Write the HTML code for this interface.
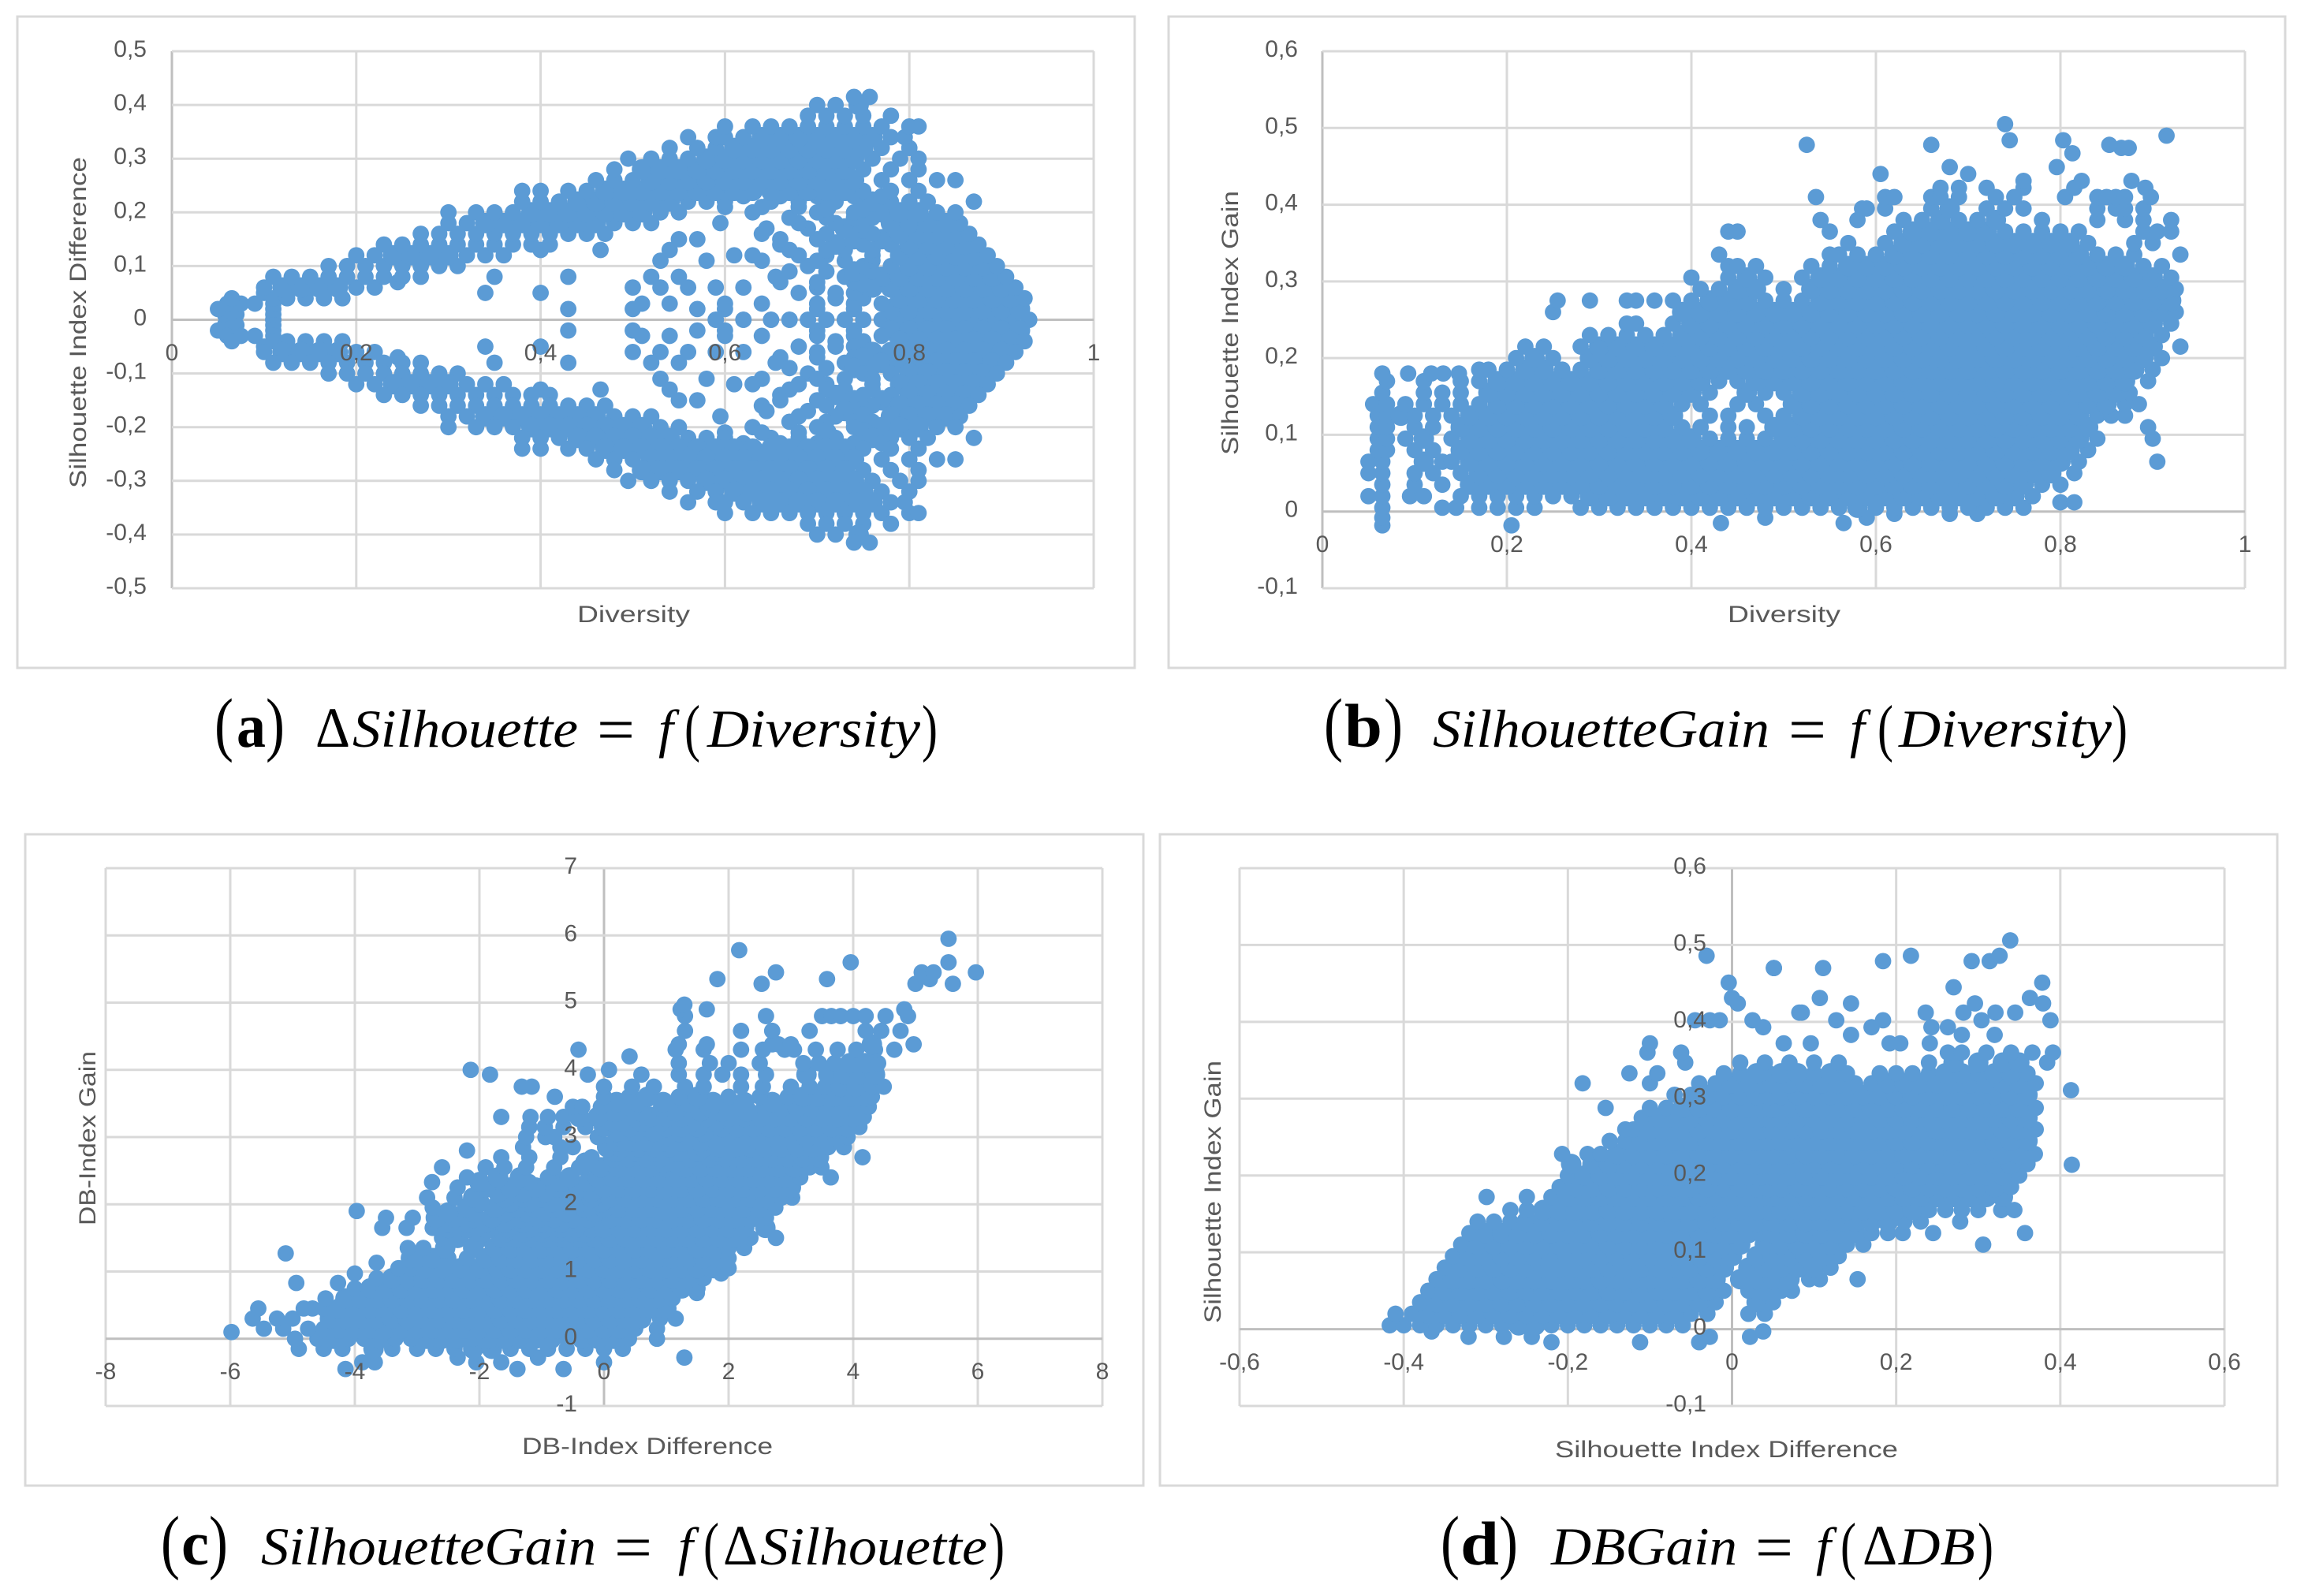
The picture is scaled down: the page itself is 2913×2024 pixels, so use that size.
<!DOCTYPE html>
<html lang="en">
<head>
<meta charset="utf-8">
<title>Silhouette and DB index scatter plots</title>
<style>
html,body{margin:0;padding:0;background:#fff;}
svg{display:block;}
.tick{font-family:"Liberation Sans",sans-serif;font-size:30px;fill:#595959;}
.cap{font-family:"Liberation Serif",serif;fill:#000;}
.it{font-style:italic;font-size:68px;}
.pb{font-size:90px;}
.ps{font-size:80px;}
.bd{font-weight:bold;font-size:78px;}
</style>
</head>
<body>
<svg id="figure" xmlns="http://www.w3.org/2000/svg" width="2913" height="2024" viewBox="0 0 2913 2024">
<rect x="0" y="0" width="2913" height="2024" fill="#fff"/>
<g id="charts"></g>

<g>
<text class="cap pb" x="272" y="948" textLength="24" lengthAdjust="spacingAndGlyphs">(</text>
<text class="cap bd" x="300" y="947" textLength="37" lengthAdjust="spacingAndGlyphs">a</text>
<text class="cap pb" x="337" y="948" textLength="24" lengthAdjust="spacingAndGlyphs">)</text>
<text class="cap" style="font-size:72px" x="400" y="947" textLength="44" lengthAdjust="spacingAndGlyphs">Δ</text>
<text class="cap it" x="447" y="947" textLength="286" lengthAdjust="spacingAndGlyphs">Silhouette</text>
<text class="cap" style="font-size:80px" x="757" y="952" textLength="48" lengthAdjust="spacingAndGlyphs">=</text>
<text class="cap it" x="835" y="947">f</text>
<text class="cap ps" x="868" y="950" textLength="20" lengthAdjust="spacingAndGlyphs">(</text>
<text class="cap it" x="897" y="947" textLength="270" lengthAdjust="spacingAndGlyphs">Diversity</text>
<text class="cap ps" x="1169" y="950" textLength="20" lengthAdjust="spacingAndGlyphs">)</text>
</g>

<g>
<text class="cap pb" x="1679" y="948" textLength="24" lengthAdjust="spacingAndGlyphs">(</text>
<text class="cap bd" x="1705" y="947" textLength="48" lengthAdjust="spacingAndGlyphs">b</text>
<text class="cap pb" x="1755" y="948" textLength="24" lengthAdjust="spacingAndGlyphs">)</text>
<text class="cap it" x="1817" y="947" textLength="427" lengthAdjust="spacingAndGlyphs">SilhouetteGain</text>
<text class="cap" style="font-size:80px" x="2268" y="952" textLength="48" lengthAdjust="spacingAndGlyphs">=</text>
<text class="cap it" x="2346" y="947">f</text>
<text class="cap ps" x="2381" y="950" textLength="20" lengthAdjust="spacingAndGlyphs">(</text>
<text class="cap it" x="2408" y="947" textLength="270" lengthAdjust="spacingAndGlyphs">Diversity</text>
<text class="cap ps" x="2678" y="950" textLength="20" lengthAdjust="spacingAndGlyphs">)</text>
</g>

<g>
<text class="cap pb" x="204" y="1985" textLength="24" lengthAdjust="spacingAndGlyphs">(</text>
<text class="cap bd" x="230" y="1984" textLength="35" lengthAdjust="spacingAndGlyphs">c</text>
<text class="cap pb" x="265" y="1985" textLength="24" lengthAdjust="spacingAndGlyphs">)</text>
<text class="cap it" x="331" y="1984" textLength="425" lengthAdjust="spacingAndGlyphs">SilhouetteGain</text>
<text class="cap" style="font-size:80px" x="779" y="1989" textLength="48" lengthAdjust="spacingAndGlyphs">=</text>
<text class="cap it" x="860" y="1984">f</text>
<text class="cap ps" x="892" y="1987" textLength="20" lengthAdjust="spacingAndGlyphs">(</text>
<text class="cap" style="font-size:72px" x="917" y="1984" textLength="44" lengthAdjust="spacingAndGlyphs">Δ</text>
<text class="cap it" x="964" y="1984" textLength="288" lengthAdjust="spacingAndGlyphs">Silhouette</text>
<text class="cap ps" x="1254" y="1987" textLength="20" lengthAdjust="spacingAndGlyphs">)</text>
</g>

<g>
<text class="cap pb" x="1827" y="1985" textLength="24" lengthAdjust="spacingAndGlyphs">(</text>
<text class="cap bd" x="1852" y="1984" textLength="49" lengthAdjust="spacingAndGlyphs">d</text>
<text class="cap pb" x="1901" y="1985" textLength="24" lengthAdjust="spacingAndGlyphs">)</text>
<text class="cap it" x="1967" y="1984" textLength="236" lengthAdjust="spacingAndGlyphs">DBGain</text>
<text class="cap" style="font-size:80px" x="2226" y="1989" textLength="48" lengthAdjust="spacingAndGlyphs">=</text>
<text class="cap it" x="2303" y="1984">f</text>
<text class="cap ps" x="2334" y="1987" textLength="20" lengthAdjust="spacingAndGlyphs">(</text>
<text class="cap" style="font-size:72px" x="2362" y="1984" textLength="44" lengthAdjust="spacingAndGlyphs">Δ</text>
<text class="cap it" x="2408" y="1984" textLength="97" lengthAdjust="spacingAndGlyphs">DB</text>
<text class="cap ps" x="2508" y="1987" textLength="20" lengthAdjust="spacingAndGlyphs">)</text>
</g>
</svg>

<script>
// Each row: first number is the y value, remaining numbers are x values at that y.
// Chart (a) is symmetric about zero, so rows hold |difference| and each point is plotted at +y and -y.
const rowsA = [
[0,.065,.11,.59,.62,.65,.67,.69,.71,.73,.75,.77,.79,.81,.83,.85,.87,.89,.91,.93],
[.01,.06,.07,.11],
[.02,.05,.065,.11,.43,.50,.57,.60,.70,.74,.78,.80,.82,.84,.86,.88,.90,.92],
[.03,.51,.54,.60,.64,.075,.06,.09,.11,.70,.74,.77],
[.04,.065,.11,.125,.145,.165,.185,.72,.75,.79,.81,.83,.85,.87,.89,.91,.925],
[.05,.34,.40,.10,.68,.72,.74],
[.06,.10,.12,.14,.16,.18,.20,.22,.50,.53,.56,.59,.62,.70,.76,.78,.80,.82,.84,.86,.88,.90,.915],
[.07,.66,.245,.70,.74,.75],
[.08,.11,.13,.15,.17,.19,.21,.23,.25,.27,.35,.43,.52,.55,.655,.73,.77,.79,.81,.83,.85,.87,.89,.905],
[.09,.67,.71,.74,.76],
[.10,.17,.19,.21,.23,.25,.27,.29,.31,.69,.75,.78,.80,.82,.84,.86,.88,.895],
[.11,.53,.58,.64,.70,.73,.76],
[.12,.20,.22,.24,.26,.28,.30,.32,.34,.36,.61,.63,.68,.71,.76,.79,.81,.83,.85,.87,.885],
[.13,.40,.465,.54,.67,.71,.73,.76],
[.14,.23,.25,.27,.29,.31,.33,.35,.37,.39,.41,.66,.72,.75,.78,.80,.82,.84,.86,.875],
[.15,.55,.57,.66,.70,.74,.77],
[.16,.27,.29,.31,.33,.35,.37,.39,.41,.43,.45,.47,.64,.71,.76,.79,.81,.83,.85,.865],
[.17,.645,.69,.73,.75],
[.18,.30,.32,.34,.36,.38,.40,.42,.44,.46,.48,.50,.52,.595,.68,.72,.75,.78,.80,.82,.84,.855],
[.19,.67,.71,.74,.76],
[.20,.30,.33,.35,.37,.39,.41,.43,.45,.47,.49,.51,.53,.55,.63,.70,.74,.77,.79,.81,.83,.85],
[.21,.60,.64,.68,.71,.75],
[.22,.38,.40,.42,.44,.46,.48,.50,.52,.54,.56,.58,.60,.65,.68,.72,.76,.78,.80,.82,.87],
[.23,.62,.66,.70,.74,.77],
[.24,.38,.40,.43,.45,.47,.49,.51,.53,.55,.57,.59,.61,.63,.65,.67,.69,.71,.73,.75,.78,.81],
[.26,.46,.48,.50,.52,.54,.56,.58,.60,.62,.64,.66,.68,.70,.72,.74,.77,.80,.83,.85],
[.28,.48,.51,.53,.55,.57,.59,.61,.63,.65,.67,.69,.71,.73,.75,.78,.81],
[.30,.495,.52,.54,.56,.58,.60,.62,.64,.66,.68,.70,.72,.74,.76,.79,.81],
[.32,.54,.57,.59,.61,.63,.65,.67,.69,.71,.73,.75,.77,.80],
[.34,.56,.59,.60,.62,.64,.66,.68,.70,.72,.74,.76,.78,.795],
[.36,.60,.63,.65,.67,.69,.71,.73,.75,.77,.80,.81],
[.38,.69,.71,.73,.75,.78],
[.40,.70,.72,.745],
[.415,.74,.757]
];
const rowsB = [
[-.018,.065,.205],
[-.015,.432,.565],
[-.008,.065,.48,.59],
[-.003,.62,.68,.71],
[.005,.065,.13,.145,.17,.19,.21,.23,.28,.30,.32,.34,.36,.38,.40,.42,.44,.46,.48,.50,.52,.54,.56,.58,.60,.62,.64,.66,.68,.70,.72,.74,.76],
[.012,.80,.815],
[.02,.05,.065,.095,.11,.15,.17,.19,.21,.23,.25,.27,.29,.31,.33,.35,.37,.39,.41,.43,.45,.47,.49,.51,.53,.55,.57,.59,.61,.63,.65,.67,.69,.71,.73,.75,.77],
[.035,.065,.10,.13,.16,.18,.20,.22,.24,.26,.28,.30,.32,.34,.36,.38,.40,.42,.44,.46,.48,.50,.52,.54,.56,.58,.60,.62,.64,.66,.68,.70,.72,.74,.76,.78,.80],
[.05,.05,.065,.10,.12,.15,.17,.19,.21,.23,.25,.27,.29,.31,.33,.35,.37,.39,.41,.43,.45,.47,.49,.51,.53,.55,.57,.59,.61,.63,.65,.67,.69,.71,.73,.75,.77,.79,.815],
[.065,.05,.065,.11,.13,.14,.16,.18,.20,.22,.24,.26,.28,.30,.32,.34,.36,.38,.40,.42,.44,.46,.48,.50,.52,.54,.56,.58,.60,.62,.64,.66,.68,.70,.72,.74,.76,.78,.80,.82,.905],
[.08,.06,.07,.10,.12,.15,.17,.19,.21,.23,.25,.27,.29,.31,.33,.35,.37,.39,.41,.43,.45,.47,.49,.51,.53,.55,.57,.59,.61,.63,.65,.67,.69,.71,.73,.75,.77,.79,.81,.83],
[.095,.06,.07,.09,.11,.14,.16,.18,.20,.22,.24,.26,.28,.30,.32,.34,.36,.38,.40,.42,.44,.46,.48,.50,.52,.54,.56,.58,.60,.62,.64,.66,.68,.70,.72,.74,.76,.78,.80,.82,.84,.90],
[.11,.06,.07,.10,.12,.15,.17,.19,.21,.23,.25,.27,.29,.31,.33,.35,.37,.39,.41,.44,.46,.49,.51,.53,.55,.57,.59,.61,.63,.65,.67,.69,.71,.73,.75,.77,.79,.81,.83,.895],
[.125,.06,.07,.085,.10,.12,.14,.16,.18,.20,.22,.24,.26,.28,.30,.32,.34,.36,.38,.42,.44,.48,.50,.52,.54,.56,.58,.60,.62,.64,.66,.68,.70,.72,.74,.76,.78,.80,.82,.84,.855,.87],
[.14,.055,.07,.09,.11,.13,.15,.17,.19,.21,.23,.25,.27,.29,.31,.33,.35,.37,.39,.41,.45,.47,.51,.53,.55,.57,.59,.61,.63,.65,.67,.69,.71,.73,.75,.77,.79,.81,.83,.85,.87,.885],
[.155,.065,.11,.13,.15,.18,.20,.22,.24,.26,.28,.30,.32,.34,.36,.38,.40,.42,.46,.48,.50,.52,.54,.56,.58,.60,.62,.64,.66,.68,.70,.72,.74,.76,.78,.80,.82,.84,.86,.875],
[.17,.07,.11,.15,.17,.19,.21,.23,.25,.27,.29,.31,.33,.35,.37,.39,.41,.43,.45,.47,.49,.51,.53,.55,.57,.59,.61,.63,.65,.67,.69,.71,.73,.75,.77,.79,.81,.83,.85,.87,.895],
[.18,.065,.093,.118,.131,.148],
[.185,.17,.18,.20,.22,.24,.26,.28,.30,.32,.34,.36,.38,.40,.42,.44,.46,.48,.50,.52,.54,.56,.58,.60,.62,.64,.66,.68,.70,.72,.74,.76,.78,.80,.82,.84,.86,.88,.90],
[.20,.21,.23,.25,.29,.31,.33,.35,.37,.39,.41,.43,.45,.47,.49,.51,.53,.55,.57,.59,.61,.63,.65,.67,.69,.71,.73,.75,.77,.79,.81,.83,.85,.87,.89,.91],
[.215,.22,.24,.28,.30,.32,.34,.36,.38,.40,.42,.44,.46,.48,.50,.52,.54,.56,.58,.60,.62,.64,.66,.68,.70,.72,.74,.76,.78,.80,.82,.84,.86,.88,.90,.93],
[.23,.29,.31,.33,.35,.37,.39,.41,.43,.45,.47,.49,.51,.53,.55,.57,.59,.61,.63,.65,.67,.69,.71,.73,.75,.77,.79,.81,.83,.85,.87,.89,.91],
[.245,.33,.34,.38,.40,.42,.44,.46,.48,.50,.52,.54,.56,.58,.60,.62,.64,.66,.68,.70,.72,.74,.76,.78,.80,.82,.84,.86,.88,.90,.92],
[.26,.25,.39,.41,.43,.45,.47,.49,.51,.53,.55,.57,.59,.61,.63,.65,.67,.69,.71,.73,.75,.77,.79,.81,.83,.85,.87,.89,.91,.925],
[.275,.255,.29,.33,.34,.36,.38,.40,.42,.44,.46,.48,.50,.52,.54,.56,.58,.60,.62,.64,.66,.68,.70,.72,.74,.76,.78,.80,.82,.84,.86,.88,.90,.92],
[.29,.41,.43,.45,.47,.50,.53,.55,.57,.59,.61,.63,.65,.67,.69,.71,.73,.75,.77,.79,.81,.83,.85,.87,.89,.91,.925],
[.305,.40,.44,.46,.48,.52,.54,.56,.58,.60,.62,.64,.66,.68,.70,.72,.74,.76,.78,.80,.82,.84,.86,.88,.90,.92],
[.32,.44,.45,.47,.53,.55,.57,.59,.61,.63,.65,.67,.69,.71,.73,.75,.77,.79,.81,.83,.85,.87,.89,.91],
[.335,.43,.55,.56,.58,.60,.62,.64,.66,.68,.70,.72,.74,.76,.78,.80,.82,.84,.86,.88,.93],
[.35,.57,.61,.63,.65,.67,.69,.71,.73,.75,.77,.79,.81,.83,.88,.90],
[.365,.44,.45,.55,.62,.64,.66,.68,.70,.72,.74,.76,.78,.80,.82,.89,.905,.92],
[.38,.54,.58,.63,.65,.67,.69,.71,.73,.78,.84,.87,.89,.92],
[.395,.585,.59,.61,.66,.68,.72,.74,.76,.84,.86,.87,.89],
[.41,.535,.61,.62,.66,.67,.69,.73,.75,.805,.84,.85,.86,.87,.898],
[.422,.67,.72,.69,.76,.815,.892],
[.431,.76,.823,.877],
[.44,.605,.70],
[.449,.68,.796],
[.467,.813],
[.474,.866,.874],
[.478,.525,.66,.853],
[.484,.745,.803],
[.49,.915],
[.505,.74]
];
const rowsC = [
[-.45,-4.15,-1.39,-.65],
[-.35,-3.88,-3.68,-2.05,-1.65,0],
[-.28,-2.35,-1.06,1.29],
[-.15,-4.9,-4.5,-4.2,-3.7,-3.4,-3,-2.7,-2.4,-2.1,-1.8,-1.5,-1.2,-.9,-.6,-.3,0,.3],
[0,-4.96,-4.6,-4.35,-4.1,-3.85,-3.6,-3.35,-3.1,-2.85,-2.6,-2.35,-2.1,-1.85,-1.6,-1.35,-1.1,-.85,-.6,-.35,-.1,.15,.4,.85],
[.1,-5.98],
[.15,-5.46,-5.15,-4.75,-4.5,-4.25,-4,-3.75,-3.5,-3.25,-3,-2.75,-2.5,-2.25,-2,-1.75,-1.5,-1.25,-1,-.75,-.5,-.25,0,.25,.5,.85],
[.3,-5.64,-5.25,-5,-4.4,-4.15,-3.9,-3.65,-3.4,-3.15,-2.9,-2.65,-2.4,-2.15,-1.9,-1.65,-1.4,-1.15,-.9,-.65,-.4,-.15,.1,.35,.6,.9,1.15],
[.45,-5.55,-4.82,-4.68,-4.5,-4.25,-4,-3.75,-3.5,-3.25,-3,-2.75,-2.5,-2.25,-2,-1.75,-1.5,-1.25,-1,-.75,-.5,-.25,0,.25,.5,.75,1],
[.6,-4.47,-4.15,-3.9,-3.65,-3.4,-3.15,-2.9,-2.65,-2.4,-2.15,-1.9,-1.65,-1.4,-1.15,-.9,-.65,-.4,-.15,.1,.35,.6,.85,1.1],
[.68,1.49],
[.75,-4,-3.75,-3.5,-3.25,-3,-2.75,-2.5,-2.25,-2,-1.75,-1.5,-1.25,-1,-.75,-.5,-.25,0,.25,.5,.75,1,1.25,1.5],
[.83,-4.94,-4.27],
[.9,-3.65,-3.4,-3.15,-2.9,-2.65,-2.4,-2.15,-1.9,-1.65,-1.4,-1.15,-.9,-.65,-.4,-.15,.1,.35,.6,.85,1.1,1.35,1.6],
[.97,-4,1.88],
[1.05,-3.3,-3.1,-2.85,-2.6,-2.3,-2,-1.7,-1.5,-1.25,-1,-.75,-.5,-.25,0,.25,.5,.75,1,1.25,1.5,1.75,2],
[1.13,-3.65],
[1.2,-3.1,-3,-2.75,-2.5,-2.2,-1.9,-1.65,-1.4,-1.15,-.9,-.65,-.4,-.15,.1,.35,.6,.85,1.1,1.35,1.6,1.85,2],
[1.27,-5.11],
[1.35,-3.15,-2.9,-2.55,-2.1,-1.75,-1.5,-1.25,-1,-.75,-.5,-.25,0,.25,.5,.75,1,1.25,1.5,1.75,2,2.25],
[1.5,-2.6,-2.35,-2,-1.65,-1.4,-1.15,-.9,-.65,-.4,-.15,.1,.35,.6,.85,1.1,1.35,1.6,1.85,2.1,2.35,2.76],
[1.58,-2.3,-1.95,-1.6,-1.3,-1,-.75,-.5,-.3],
[1.65,-3.56,-3.17,-2.75,-2.5,-2.2,-1.9,-1.55,-1.2,-.95,-.7,-.45,-.2,0,.25,.5,.75,1,1.25,1.5,1.75,2,2.25,2.59],
[1.73,-2.5,-2.2,-1.9,-1.6,-1.3,-1,-.7,-.4],
[1.8,-3.5,-3.07,-2.7,-2.4,-2.1,-1.8,-1.35,-1.05,-.8,-.5,-.25,.1,.35,.6,.85,1.1,1.35,1.6,1.85,2.1,2.35,2.6],
[1.88,-2.5,-2.1,-1.6,-1.25,-.95,-.6,-.15],
[1.9,-3.97],
[1.95,-2.75,-2.2,-1.75,-1.4,-1.1,-.8,-.3,0,.25,.5,.75,1,1.25,1.5,1.75,2,2.25,2.5,2.75],
[2.03,-2,-1.5,-1.2,-.85,-.4,-.05],
[2.1,-2.84,-2.4,-2.1,-1.6,-1.3,-1,-.55,-.2,.1,.35,.6,.85,1.1,1.35,1.6,1.85,2.1,2.35,2.6,2.85,3.02],
[2.18,-1.7,-1.3,-.95,-.6,-.2],
[2.25,-2.35,-1.9,-1.5,-1.1,-.75,-.4,0,.25,.5,.75,1,1.25,1.5,1.75,2,2.25,2.5,2.75,3],
[2.33,-2.76,-2,-1.2,-.7,-.25],
[2.4,-2.2,-1.7,-1.35,-.9,-.55,-.1,.15,.4,.65,.9,1.15,1.4,1.65,1.9,2.15,2.4,2.65,2.9,3.15,3.64],
[2.55,-2.6,-1.9,-1.6,-1.25,-.8,-.4,-.05,.25,.5,.75,1,1.3,1.55,1.8,2.05,2.3,2.55,2.8,3.05,3.3,3.49],
[2.62,1.15,.95,.15,-.3],
[2.7,-1.65,-1.2,-.7,-.2,.15,.4,.65,.9,1.4,1.7,1.95,2.2,2.45,2.7,2.95,3.2,3.45,4.15],
[2.78,.2,.5,.8,1.2,1.5,1.8],
[2.8,-2.2],
[2.85,-1.3,-.7,-.5,.05,.3,.55,.8,1.05,1.6,1.85,2.1,2.35,2.6,2.85,3.1,3.35,3.6,3.85],
[2.93,.2,.45,.7,.95,1.25,1.55],
[3,-.94,-1.25,-.8,-.1,.3,.55,.85,1.1,1.35,1.75,2,2.25,2.5,2.75,3,3.25,3.5,3.75,3.91],
[3.08,.2,.5,.8,1.2,1.6],
[3.15,-1.2,-.95,-.65,-.3,0,.4,.7,1,1.25,1.5,1.9,2.15,2.4,2.65,2.9,3.15,3.4,3.65,3.9,4.1],
[3.23,.15,.3,.6,.9,1.4,1.8],
[3.3,-1.65,-1.18,-.9,-.65,-.4,-.1,.5,.75,1,1.25,1.65,2,2.25,2.5,2.75,3,3.25,3.5,3.75,4,4.17],
[3.38,.2,.6,1.15,1.55,1.9,2.3],
[3.45,-.5,-.35,-.05,.45,.95,1.35,1.7,2.1,2.6,2.85,3.1,3.35,3.6,3.85,4.1,4.25],
[3.52,.2,.55,.95,1.35,1.75,2.25,2.7],
[3.6,-.79,0,.4,.7,1.2,1.5,2,2.5,2.95,3.2,3.45,3.7,3.95,4.2,4.3],
[3.75,-1.32,-1.16,0,.45,.8,1.3,1.6,2.2,2.55,3,3.3,3.55,3.8,4.05,4.3,4.49],
[3.93,-1.83,-.26,.6,1.2,1.6,1.9,2.2,2.6,3.25,3.6,3.85,4.1,4.35],
[4,-2.14,.08],
[4.1,1.2,1.7,2,2.5,3.2,3.45,3.7,3.95,4.2,4.4],
[4.2,.41],
[4.3,-.41,1.15,1.6,2.2,2.55,2.9,3.05,3.4,3.75,4.05,4.35,4.66],
[4.38,4.97,1.2,1.65,2.7,2.8,3,4.3],
[4.58,1.3,2.2,2.7,3.3,4.2,4.45,4.76],
[4.8,1.3,2.6,3.5,3.65,3.8,4,4.2,4.52,4.88],
[4.9,1.23,1.65,4.82],
[4.97,1.29],
[5.28,2.53,5,5.6],
[5.35,1.82,3.58,5.23],
[5.45,2.76,5.1,5.29,5.97],
[5.6,3.96,5.53],
[5.78,2.17],
[5.95,5.53]
];
const rowsD = [
[-.017,-.22,-.112,-.04],
[-.01,-.278,-.244,-.321,-.027,.022],
[-.003,-.366,.038],
[.005,-.417,-.4,-.38,-.36,-.34,-.32,-.3,-.28,-.26,-.24,-.22,-.2,-.18,-.16,-.14,-.12,-.1,-.08,-.06],
[.02,-.41,-.39,-.37,-.35,-.33,-.31,-.29,-.27,-.25,-.23,-.21,-.19,-.17,-.15,-.13,-.11,-.09,-.07,-.05,-.03,.02,.04],
[.035,-.38,-.36,-.34,-.32,-.3,-.28,-.26,-.24,-.22,-.2,-.18,-.16,-.14,-.12,-.1,-.08,-.06,-.04,-.02,.03,.05],
[.05,-.37,-.35,-.33,-.31,-.29,-.27,-.25,-.23,-.21,-.19,-.17,-.15,-.13,-.11,-.09,-.07,-.05,-.03,-.01,.02,.04,.06,.073],
[.065,-.36,-.34,-.32,-.3,-.28,-.26,-.24,-.22,-.2,-.18,-.16,-.14,-.12,-.1,-.08,-.06,-.04,-.02,.01,.03,.05,.07,.094,.107,.153],
[.08,-.35,-.33,-.31,-.29,-.27,-.25,-.23,-.21,-.19,-.17,-.15,-.13,-.11,-.09,-.07,-.05,-.03,-.01,.02,.04,.06,.08,.1,.12],
[.095,-.34,-.32,-.3,-.28,-.26,-.24,-.22,-.2,-.18,-.16,-.14,-.12,-.1,-.08,-.06,-.04,-.02,0,.03,.05,.07,.09,.11,.13],
[.11,-.33,-.31,-.29,-.27,-.25,-.23,-.21,-.19,-.17,-.15,-.13,-.11,-.09,-.07,-.05,-.03,-.01,.01,.04,.06,.08,.1,.12,.14,.16,.306],
[.125,-.32,-.3,-.28,-.26,-.24,-.22,-.2,-.18,-.16,-.14,-.12,-.1,-.08,-.06,-.04,-.02,0,.02,.035,.05,.07,.09,.11,.13,.15,.17,.19,.208,.245,.357],
[.14,-.31,-.29,-.27,-.25,-.23,-.21,-.19,-.17,-.15,-.13,-.11,-.09,-.07,-.05,-.03,-.01,.01,.03,.05,.07,.09,.11,.13,.15,.17,.19,.21,.23,.278],
[.155,-.27,-.25,-.23,-.21,-.19,-.17,-.15,-.13,-.11,-.09,-.07,-.05,-.03,-.01,.01,.03,.045,.06,.08,.1,.12,.14,.16,.18,.2,.22,.24,.26,.28,.3,.328,.344],
[.172,-.299,-.25,-.22,-.2,-.18,-.16,-.14,-.12,-.1,-.08,-.06,-.04,-.02,0,.02,.035,.05,.07,.09,.11,.13,.15,.17,.19,.21,.23,.25,.27,.29,.31,.33],
[.185,-.21,-.19,-.17,-.15,-.13,-.11,-.09,-.07,-.05,-.03,-.01,.01,.03,.045,.06,.08,.1,.12,.14,.16,.18,.2,.22,.24,.26,.28,.3,.32,.34],
[.20,-.2,-.18,-.16,-.14,-.12,-.1,-.08,-.06,-.04,-.02,0,.02,.035,.05,.07,.09,.11,.13,.15,.17,.19,.21,.23,.25,.27,.29,.31,.33,.35],
[.215,-.196,-.17,-.15,-.13,-.11,-.09,-.07,-.05,-.03,-.01,.01,.03,.045,.06,.08,.1,.12,.14,.16,.18,.2,.22,.24,.26,.28,.3,.32,.34,.36],
[.228,-.207,-.176,-.16,-.14,-.12,-.1,-.08,-.06,-.04,-.02,0,.02,.035,.05,.07,.09,.11,.13,.15,.17,.19,.21,.23,.25,.27,.29,.31,.33,.35,.369],
[.245,-.149,-.13,-.11,-.09,-.07,-.05,-.03,-.01,.01,.03,.045,.06,.08,.1,.12,.14,.16,.18,.2,.22,.24,.26,.28,.3,.32,.34,.36],
[.26,-.13,-.12,-.1,-.08,-.06,-.04,-.02,0,.02,.035,.05,.07,.09,.11,.13,.15,.17,.19,.21,.23,.25,.27,.29,.31,.33,.35,.37],
[.275,-.11,-.09,-.07,-.05,-.03,-.01,.01,.03,.045,.06,.08,.1,.12,.14,.16,.18,.2,.22,.24,.26,.28,.3,.32,.34,.36],
[.288,-.154,-.1,-.08,-.06,-.04,-.02,0,.02,.035,.05,.07,.09,.11,.13,.15,.17,.19,.21,.23,.25,.27,.29,.31,.33,.35,.37],
[.305,-.07,-.05,-.03,-.01,.01,.03,.045,.06,.08,.1,.12,.14,.16,.18,.2,.22,.24,.26,.28,.3,.32,.34,.36],
[.32,-.182,-.1,-.04,-.02,0,.02,.035,.05,.07,.09,.11,.13,.15,.17,.19,.21,.23,.25,.27,.29,.31,.33,.35,.37],
[.333,-.125,-.091,-.01,.01,.03,.045,.06,.08,.1,.12,.14,.18,.2,.22,.24,.26,.28,.3,.32,.34,.36],
[.347,-.057,.01,.04,.07,.10,.13,.24,.27,.3,.33,.35,.384],
[.36,-.103,-.062,.263,.366,.391,.28,.31,.34],
[.372,-.1,.063,.096,.205,.241,.192],
[.383,.145,.28,.32],
[.393,.17,.243,.263,.038],
[.402,-.045,-.027,-.015,.025,.127,.184,.304,.388],
[.412,.082,.085,.236,.282,.321,.345],
[.424,.007,.145,.296,.379],
[.431,0,.107,.363],
[.445,.27],
[.451,-.004,.378],
[.47,.051,.051,.111],
[.479,.184,.292,.314],
[.486,-.031,.218,.326],
[.506,.339],
[.311,.413],
[.214,.414]
];

const xTicksA = [0,.2,.4,.6,.8,1];
const xTickLabelsA = ['0','0,2','0,4','0,6','0,8','1'];
const yTicksA = [-.5,-.4,-.3,-.2,-.1,0,.1,.2,.3,.4,.5];
const yTickLabelsA = ['-0,5','-0,4','-0,3','-0,2','-0,1','0','0,1','0,2','0,3','0,4','0,5'];
const xTicksB = [0,.2,.4,.6,.8,1];
const xTickLabelsB = ['0','0,2','0,4','0,6','0,8','1'];
const yTicksB = [-.1,0,.1,.2,.3,.4,.5,.6];
const yTickLabelsB = ['-0,1','0','0,1','0,2','0,3','0,4','0,5','0,6'];
const xTicksC = [-8,-6,-4,-2,0,2,4,6,8];
const xTickLabelsC = ['-8','-6','-4','-2','0','2','4','6','8'];
const yTicksC = [-1,0,1,2,3,4,5,6,7];
const yTickLabelsC = ['-1','0','1','2','3','4','5','6','7'];
const xTicksD = [-.6,-.4,-.2,0,.2,.4,.6];
const xTickLabelsD = ['-0,6','-0,4','-0,2','0','0,2','0,4','0,6'];
const yTicksD = [-.1,0,.1,.2,.3,.4,.5,.6];
const yTickLabelsD = ['-0,1','0','0,1','0,2','0,3','0,4','0,5','0,6'];

const NS = 'http://www.w3.org/2000/svg';
const chartsLayer = document.getElementById('charts');

function scale(d0, d1, r0, r1) {
  return function (v) { return r0 + (v - d0) * (r1 - r0) / (d1 - d0); };
}
function shape(parent, tag, attrs) {
  const el = document.createElementNS(NS, tag);
  for (const k in attrs) el.setAttribute(k, attrs[k]);
  parent.appendChild(el);
  return el;
}

// Markers fully surrounded by close neighbours are drawn slightly larger so the dense
// areas read as solid, while edge markers and outliers keep the true marker size.
function markerRadii(points) {
  const reach = 22;
  return points.map(function (p) {
    let q1 = false, q2 = false, q3 = false, q4 = false;
    points.forEach(function (o) {
      const dx = o[0] - p[0], dy = o[1] - p[1];
      if (Math.abs(dx) > reach || Math.abs(dy) > reach || dx === 0 || dy === 0) return;
      if (dx > 0 && dy > 0) q1 = true;
      if (dx < 0 && dy > 0) q2 = true;
      if (dx < 0 && dy < 0) q3 = true;
      if (dx > 0 && dy < 0) q4 = true;
    });
    return (q1 && q2 && q3 && q4) ? 13 : 10.4;
  });
}

function drawChart(c) {
  const g = shape(chartsLayer, 'g', {});
  
  

  const frame = shape(g, 'rect', {x:c.frame[0], y:c.frame[1], width:c.frame[2]-c.frame[0], height:c.frame[3]-c.frame[1], fill:'#fff', stroke:'#d9d9d9', 'stroke-width':3});
  
  

  const sx = scale(c.xDomain[0], c.xDomain[1], c.plot[0], c.plot[1]);
  const sy = scale(c.yDomain[0], c.yDomain[1], c.plot[3], c.plot[2]);

  c.xTicks.forEach(function (t) {
    const isZero = t === 0;
    const line = shape(g, 'line', {x1:sx(t), x2:sx(t), y1:c.plot[2], y2:c.plot[3], stroke:isZero ? '#bfbfbf' : '#d9d9d9', 'stroke-width':3});
    
    
  });
  c.yTicks.forEach(function (t) {
    const isZero = t === 0;
    const line = shape(g, 'line', {x1:c.plot[0], x2:c.plot[1], y1:sy(t), y2:sy(t), stroke:isZero ? '#bfbfbf' : '#d9d9d9', 'stroke-width':3});
    
    
  });

  const layer = shape(g, 'g', {fill:'#5b9bd5'});
  
  
  const pts = [];
  c.rows.forEach(function (row) {
    for (let i = 1; i < row.length; i++) {
      pts.push([sx(row[i]), sy(row[0])]);
      if (c.mirror) pts.push([sx(row[i]), sy(-row[0])]);
    }
  });
  const radii = markerRadii(pts);
  pts.forEach(function (p, i) {
    const dot = shape(layer, 'circle', {cx:p[0], cy:p[1], r:radii[i]});
    
    
  });

  c.xTicks.forEach(function (t, i) {
    const lab = shape(g, 'text', {x:sx(t), y:c.xLabelBase, 'text-anchor':'middle', 'class':'tick'});
    lab.textContent = c.xTickLabels[i];
    
    
  });
  c.yTicks.forEach(function (t, i) {
    const lab = shape(g, 'text', {x:c.yLabelRight, y:sy(t) + 7, 'text-anchor':'end', 'class':'tick'});
    lab.textContent = c.yTickLabels[i];
    
    
  });

  const xt = shape(g, 'text', {x:c.xTitle[1], y:c.xTitle[3], textLength:c.xTitle[2], lengthAdjust:'spacingAndGlyphs', 'class':'tick'});
  xt.textContent = c.xTitle[0];
  
  

  const yt = shape(g, 'text', {transform:'translate(' + c.yTitle[3] + ',' + c.yTitle[1] + ') rotate(-90)', x:0, y:0, textLength:c.yTitle[2], lengthAdjust:'spacingAndGlyphs', 'class':'tick'});
  yt.textContent = c.yTitle[0];
  
  
}

drawChart({name:'chart-a', frame:[22,21,1439,847], plot:[218,1387,65,746], xDomain:[0,1], yDomain:[-.5,.5],
  xTicks:xTicksA, xTickLabels:xTickLabelsA, yTicks:yTicksA, yTickLabels:yTickLabelsA, rows:rowsA, mirror:true,
  xLabelBase:457, yLabelRight:186, xTitle:['Diversity',732,143,789], yTitle:['Silhouette Index Difference',619,420,109]});
drawChart({name:'chart-b', frame:[1482,21,2898,847], plot:[1677,2847,65,746], xDomain:[0,1], yDomain:[-.1,.6],
  xTicks:xTicksB, xTickLabels:xTickLabelsB, yTicks:yTicksB, yTickLabels:yTickLabelsB, rows:rowsB, mirror:false,
  xLabelBase:700, yLabelRight:1646, xTitle:['Diversity',2191,143,789], yTitle:['Silhouette Index Gain',577,335,1570]});
drawChart({name:'chart-c', frame:[32,1058,1450,1884], plot:[134,1398,1101,1783], xDomain:[-8,8], yDomain:[-1,7],
  xTicks:xTicksC, xTickLabels:xTickLabelsC, yTicks:yTicksC, yTickLabels:yTickLabelsC, rows:rowsC, mirror:false,
  xLabelBase:1749, yLabelRight:732, xTitle:['DB-Index Difference',662,318,1844], yTitle:['DB-Index Gain',1554,221,121]});
drawChart({name:'chart-d', frame:[1471,1058,2888,1884], plot:[1572,2821,1101,1783], xDomain:[-.6,.6], yDomain:[-.1,.6],
  xTicks:xTicksD, xTickLabels:xTickLabelsD, yTicks:yTicksD, yTickLabels:yTickLabelsD, rows:rowsD, mirror:false,
  xLabelBase:1737, yLabelRight:2164, xTitle:['Silhouette Index Difference',1972,435,1848], yTitle:['Silhouette Index Gain',1678,333,1548]});
</script>
</body>
</html>
